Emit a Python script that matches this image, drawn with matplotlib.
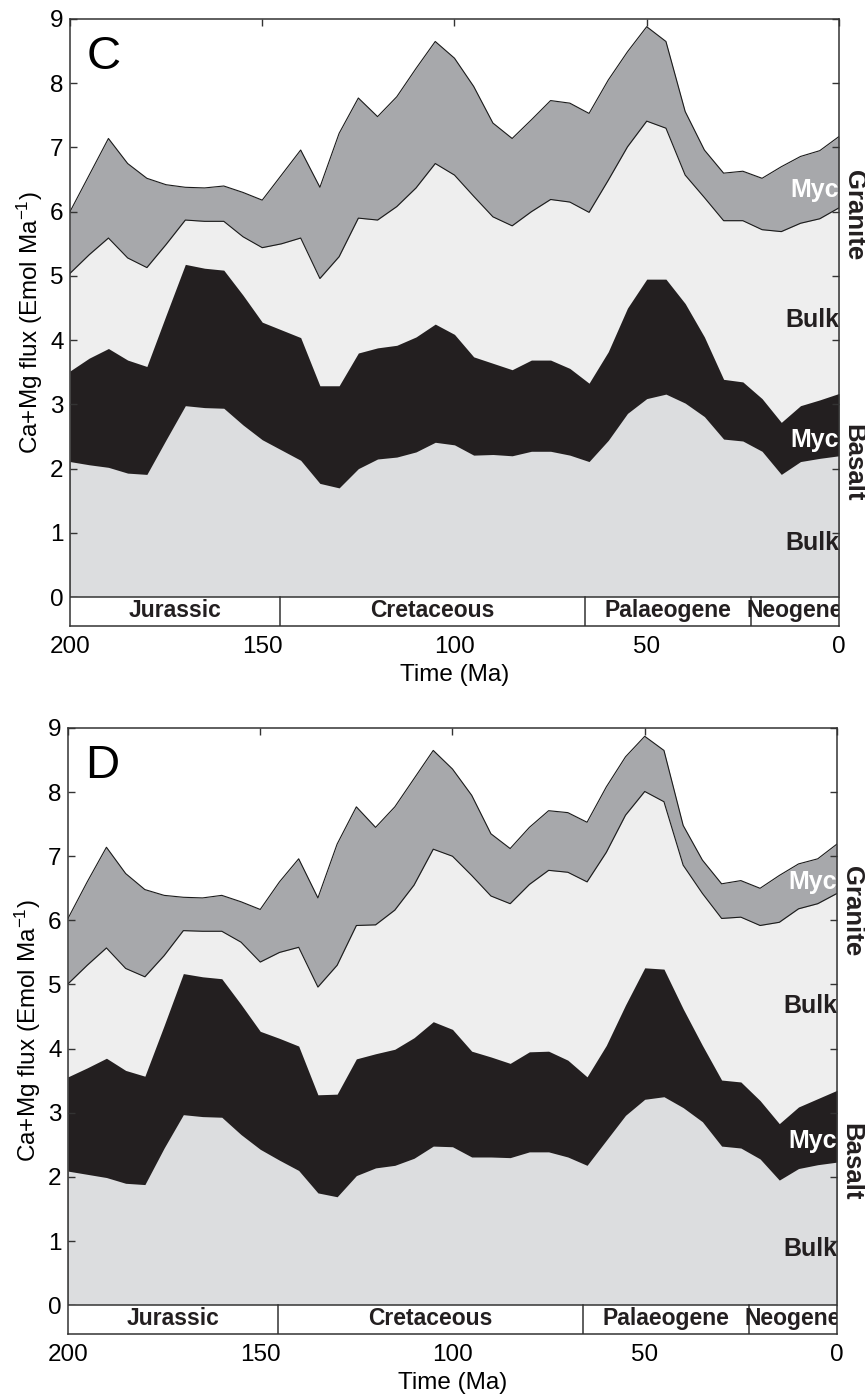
import numpy as np
import matplotlib
matplotlib.use('Agg')
import matplotlib.pyplot as plt
import matplotlib.transforms as mtransforms

plt.rcParams['font.family'] = ['Liberation Sans', 'DejaVu Sans']
plt.rcParams['mathtext.default'] = 'regular'

# time (Ma), one value every 5 Ma
time = [200, 195, 190, 185, 180, 175, 170, 165, 160, 155, 150, 145, 140, 135,
        130, 125, 120, 115, 110, 105, 100, 95, 90, 85, 80, 75, 70, 65, 60, 55,
        50, 45, 40, 35, 30, 25, 20, 15, 10, 5, 0]

# panel C : cumulative tops of each layer (Emol/Ma)
c_basalt_bulk = [2.11, 2.06, 2.02, 1.93, 1.91, 2.45, 2.98, 2.95, 2.94, 2.68, 2.45, 2.29, 2.13, 1.77,
                 1.70, 2.00, 2.15, 2.18, 2.26, 2.41, 2.37, 2.21, 2.22, 2.20, 2.27, 2.27, 2.21, 2.11,
                 2.44, 2.86, 3.09, 3.16, 3.02, 2.81, 2.46, 2.43, 2.27, 1.91, 2.11, 2.16, 2.20]
c_basalt_total = [3.52, 3.72, 3.87, 3.69, 3.59, 4.39, 5.18, 5.12, 5.09, 4.70, 4.28, 4.16, 4.04, 3.29,
                  3.29, 3.80, 3.88, 3.92, 4.05, 4.25, 4.09, 3.74, 3.64, 3.54, 3.69, 3.69, 3.56, 3.33,
                  3.82, 4.50, 4.95, 4.95, 4.57, 4.05, 3.39, 3.35, 3.09, 2.72, 2.98, 3.07, 3.17]
c_granite_bulk = [5.04, 5.33, 5.59, 5.28, 5.13, 5.49, 5.87, 5.85, 5.85, 5.61, 5.44, 5.50, 5.59, 4.96,
                  5.30, 5.90, 5.87, 6.08, 6.37, 6.75, 6.57, 6.24, 5.92, 5.78, 6.00, 6.19, 6.15, 5.99,
                  6.49, 7.01, 7.41, 7.30, 6.57, 6.22, 5.86, 5.86, 5.72, 5.69, 5.82, 5.89, 6.06]
c_granite_total = [6.00, 6.57, 7.14, 6.75, 6.52, 6.42, 6.38, 6.37, 6.40, 6.30, 6.18, 6.57, 6.96, 6.38,
                   7.22, 7.77, 7.48, 7.79, 8.23, 8.65, 8.39, 7.95, 7.38, 7.14, 7.43, 7.73, 7.69, 7.53,
                   8.05, 8.49, 8.88, 8.65, 7.56, 6.96, 6.60, 6.63, 6.52, 6.70, 6.86, 6.95, 7.17]

# panel D
d_basalt_bulk = [2.09, 2.04, 1.99, 1.90, 1.88, 2.45, 2.97, 2.94, 2.93, 2.66, 2.43, 2.26, 2.10, 1.75,
                 1.69, 2.02, 2.14, 2.18, 2.29, 2.48, 2.47, 2.31, 2.31, 2.30, 2.39, 2.39, 2.31, 2.18,
                 2.57, 2.96, 3.21, 3.25, 3.08, 2.86, 2.48, 2.45, 2.28, 1.95, 2.13, 2.19, 2.23]
d_basalt_total = [3.56, 3.70, 3.85, 3.66, 3.57, 4.36, 5.17, 5.12, 5.09, 4.69, 4.27, 4.16, 4.04, 3.28,
                  3.29, 3.84, 3.92, 3.99, 4.17, 4.42, 4.30, 3.96, 3.87, 3.77, 3.95, 3.96, 3.82, 3.56,
                  4.05, 4.68, 5.26, 5.24, 4.62, 4.05, 3.51, 3.48, 3.19, 2.83, 3.09, 3.22, 3.35]
d_granite_bulk = [5.01, 5.30, 5.57, 5.25, 5.12, 5.45, 5.84, 5.83, 5.83, 5.66, 5.35, 5.50, 5.58, 4.96,
                  5.30, 5.92, 5.93, 6.16, 6.55, 7.11, 7.00, 6.70, 6.38, 6.26, 6.56, 6.78, 6.75, 6.60,
                  7.06, 7.64, 8.01, 7.85, 6.86, 6.42, 6.03, 6.05, 5.92, 5.97, 6.18, 6.26, 6.42]
d_granite_total = [6.03, 6.60, 7.14, 6.73, 6.48, 6.39, 6.36, 6.35, 6.39, 6.29, 6.17, 6.60, 6.96, 6.35,
                   7.19, 7.77, 7.45, 7.77, 8.21, 8.65, 8.36, 7.95, 7.35, 7.12, 7.45, 7.71, 7.68, 7.53,
                   8.08, 8.55, 8.87, 8.65, 7.48, 6.94, 6.57, 6.62, 6.50, 6.70, 6.88, 6.96, 7.19]

periods = ['Jurassic', 'Cretaceous', 'Palaeogene', 'Neogene']
period_edges = [200, 145.5, 66, 23, 0]

col_granite_myc = '#a7a8ab'
col_granite_bulk = '#eeeeee'
col_basalt_myc = '#231f20'
col_basalt_bulk = '#dcdddf'
frame = '#333333'

fig = plt.figure(figsize=(8.65, 13.97), dpi=100)
ax1 = fig.add_axes([0.0809, 0.5519, 0.8890, 0.4345])
ax2 = fig.add_axes([0.0786, 0.0451, 0.8890, 0.4338])


def draw_panel(ax, letter, b_bulk, b_tot, g_bulk, g_tot, lab_y, rock_y):
    # stacked from the top down so neighbouring fills leave no seams
    ax.fill_between(time, 0, g_tot, color=col_granite_myc, lw=0)
    ax.fill_between(time, 0, g_bulk, color=col_granite_bulk, lw=0)
    ax.fill_between(time, 0, b_tot, color=col_basalt_myc, lw=0)
    ax.fill_between(time, 0, b_bulk, color=col_basalt_bulk, lw=0)
    ax.plot(time, g_bulk, color='#1a1a1a', lw=0.8)
    ax.plot(time, g_tot, color='#1a1a1a', lw=0.8)

    # period bar under zero
    ax.axhspan(-0.45, 0, color='white', zorder=3)
    ax.axhline(0, color=frame, lw=1.1, zorder=4)
    for e in period_edges[1:-1]:
        ax.plot([e, e], [-0.45, 0], color=frame, lw=1.1, zorder=4)
    for name, a, b in zip(periods, period_edges[:-1], period_edges[1:]):
        ax.text((a + b) / 2, -0.21, name, ha='center', va='center', fontsize=16.5,
                fontweight='bold', color='#231f20', zorder=5, clip_on=True)

    ax.set_xlim(200, 0)
    ax.set_ylim(-0.45, 9)
    ax.set_xticks([200, 150, 100, 50, 0])
    ax.set_yticks(range(10))
    ax.tick_params(direction='in', top=True, right=True, length=5, width=1.0,
                   color=frame, labelsize=17.5)
    ax.tick_params(axis='x', bottom=False, pad=7)
    ax.tick_params(axis='y', pad=4.5)
    for s in ax.spines.values():
        s.set_color(frame)
        s.set_linewidth(1.1)
        s.set_zorder(6)

    ax.set_ylabel('Ca+Mg flux (Emol Ma$^{-1}$)', fontsize=17.5)
    ax.yaxis.set_label_coords(-0.033, 0.5)
    ax.set_xlabel('Time (Ma)', fontsize=17.5)
    ax.xaxis.set_label_coords(0.5, -0.062)

    ax.text(0.022, 0.917, letter, transform=ax.transAxes, fontsize=34,
            ha='left', va='baseline')

    names = ['Myc', 'Bulk', 'Myc', 'Bulk']
    colors = ['white', '#231f20', 'white', '#231f20']
    for n, c, y in zip(names, colors, lab_y):
        ax.text(0, y, n, ha='right', va='center', fontsize=18, fontweight='bold',
                color=c, zorder=5)

    trans = mtransforms.blended_transform_factory(ax.transAxes, ax.transData)
    for n, y in zip(['Granite', 'Basalt'], rock_y):
        ax.text(1.019, y, n, transform=trans, rotation=-90, ha='center', va='center',
                fontsize=18.5, fontweight='bold', color='#231f20')


draw_panel(ax1, 'C', c_basalt_bulk, c_basalt_total, c_granite_bulk, c_granite_total,
           [6.34, 4.31, 2.45, 0.84], [5.95, 2.09])
draw_panel(ax2, 'D', d_basalt_bulk, d_basalt_total, d_granite_bulk, d_granite_total,
           [6.60, 4.67, 2.56, 0.87], [6.15, 2.23])

fig.savefig('out.png', dpi=100)
